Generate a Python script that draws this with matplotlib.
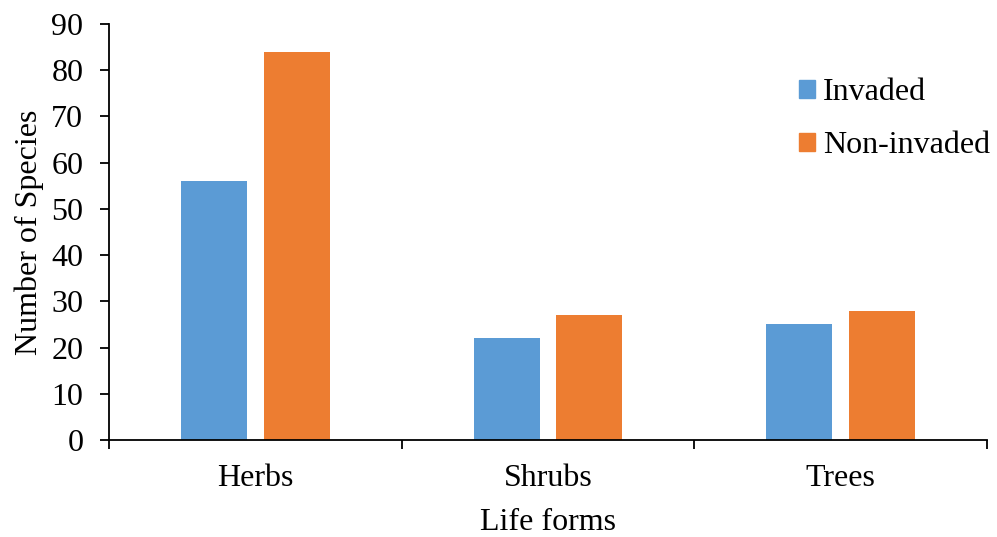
import matplotlib
matplotlib.use("Agg")
import matplotlib.pyplot as plt
from matplotlib.patches import Patch
import numpy as np

categories = ["Herbs", "Shrubs", "Trees"]
invaded = [56, 22, 25]
non_invaded = [84, 27, 28]
series_names = ["Invaded", "Non-invaded"]
y_ticks = [0, 10, 20, 30, 40, 50, 60, 70, 80, 90]

plt.rcParams["font.family"] = ["Liberation Serif", "DejaVu Serif"]
FS = 23

fig = plt.figure(figsize=(9.97, 5.37), dpi=100)
ax = fig.add_axes([109 / 997, 1 - 440 / 537, (987 - 109) / 997, (440 - 24) / 537])

x = np.arange(len(categories))
w = 0.225
off = 0.1415
blue = "#5B9BD5"
orange = "#ED7D31"
ax.bar(x - off, invaded, width=w, color=blue, label=series_names[0])
ax.bar(x + off, non_invaded, width=w, color=orange, label=series_names[1])

ax.set_xlim(-0.5, len(categories) - 0.5)
ax.set_ylim(0, 90)
ax.set_yticks(y_ticks)
ax.set_yticklabels([str(v) for v in y_ticks], fontsize=FS)

# category boundary ticks below the axis, labels centred between them
ax.set_xticks(np.arange(-0.5, len(categories), 1.0))
ax.set_xticklabels([])
ax.set_xticks(x, minor=True)
ax.set_xticklabels(categories, minor=True, fontsize=FS)
ax.tick_params(axis="x", which="major", direction="out", length=6.5, width=1.3)
ax.tick_params(axis="x", which="minor", length=0, pad=17)
ax.tick_params(axis="y", direction="out", length=6.5, width=1.3, pad=12)

for s in ["top", "right"]:
    ax.spines[s].set_visible(False)
for s in ["left", "bottom"]:
    ax.spines[s].set_linewidth(1.3)

ax.set_xlabel("Life forms", fontsize=FS, labelpad=11)
ax.set_ylabel("Number of Species", fontsize=FS, labelpad=5)

handles = [Patch(color=blue), Patch(color=orange)]
ax.legend(handles, series_names, loc="upper left", bbox_to_anchor=(0.771, 0.90),
          frameon=False, fontsize=FS, handlelength=0.5, handleheight=0.5,
          handletextpad=0.27, labelspacing=0.75, borderaxespad=0)

fig.savefig("out.png", dpi=100)
